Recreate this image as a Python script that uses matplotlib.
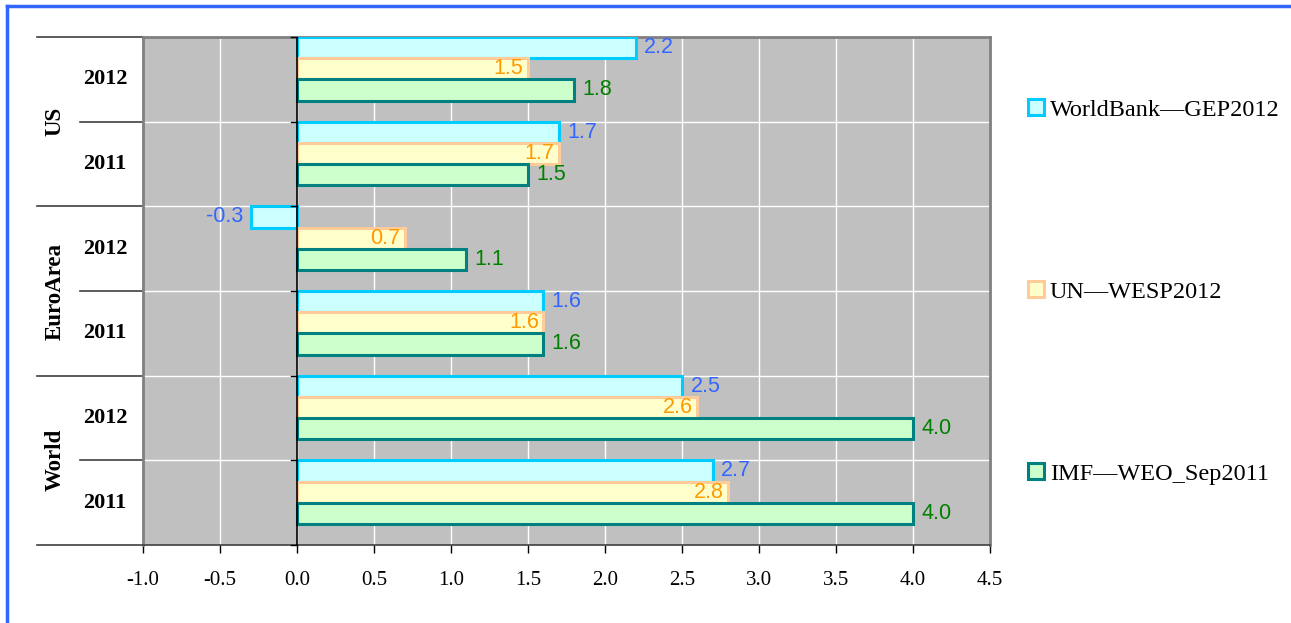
import numpy as np
import matplotlib.pyplot as plt
from matplotlib.patches import Patch
from matplotlib.lines import Line2D

# data (growth forecasts, %)
countries = ['World', 'EuroArea', 'US']
years = ['2011', '2012']
series = ['WorldBank\u2014GEP2012', 'UN\u2014WESP2012', 'IMF\u2014WEO_Sep2011']
# order: World 2011, World 2012, EuroArea 2011, EuroArea 2012, US 2011, US 2012
worldbank = [2.7, 2.5, 1.6, -0.3, 1.7, 2.2]
un = [2.8, 2.6, 1.6, 0.7, 1.7, 1.5]
imf = [4.0, 4.0, 1.6, 1.1, 1.5, 1.8]

faces = ['#CCFFFF', '#FFFFCC', '#CCFFCC']
edges = ['#00CCFF', '#FFCC99', '#008080']
txtcol = ['#3366FF', '#FF9900', '#008000']
serif = ['Liberation Serif', 'DejaVu Serif']
sans = ['Liberation Sans', 'DejaVu Sans']

fig = plt.figure(figsize=(12.91, 6.23), dpi=100)
ax = fig.add_axes([143/1291, 1-545/623, 847/1291, 508/623])
ax.set_facecolor('#C0C0C0')

n = len(worldbank)
pos = np.arange(n)
h = 0.25
vals = [worldbank, un, imf]
offs = [0.875, 0.625, 0.375]
for k in range(3):
    y = pos + offs[k]
    ax.barh(y, vals[k], height=h, color=faces[k], edgecolor=edges[k],
            linewidth=2.2, zorder=3)
    for yi, v in zip(y, vals[k]):
        if k == 1:
            ax.text(v - 0.03, yi, '%.1f' % v, ha='right', va='center',
                    color=txtcol[k], fontsize=15.5, family=sans, zorder=4)
        elif v < 0:
            ax.text(v - 0.05, yi, '%.1f' % v, ha='right', va='center',
                    color=txtcol[k], fontsize=15.5, family=sans, zorder=4)
        else:
            ax.text(v + 0.055, yi, '%.1f' % v, ha='left', va='center',
                    color=txtcol[k], fontsize=15.5, family=sans, zorder=4)

ax.set_xlim(-1.0, 4.5)
ax.set_ylim(0, n)
ax.set_xticks(np.arange(-1.0, 4.51, 0.5))
ax.set_xticklabels(['%.1f' % t for t in np.arange(-1.0, 4.51, 0.5)],
                   family=serif, fontsize=15)
ax.tick_params(axis='x', direction='out', length=6, width=1, pad=13)
ax.set_yticks([])
for x in np.arange(-0.5, 4.51, 0.5):
    ax.axvline(x, color='white', lw=1, zorder=1)
for yb in range(1, n):
    ax.axhline(yb, color='white', lw=1, zorder=1)
ax.axvline(0, color='black', lw=1.2, zorder=5)
for yb in range(0, n + 1):
    ax.plot([-0.04, 0], [yb, yb], color='black', lw=1, zorder=5, clip_on=False)

for s in ['top', 'right', 'left']:
    ax.spines[s].set_color('#808080')
    ax.spines[s].set_linewidth(2)
ax.spines['bottom'].set_color('#404040')
ax.spines['bottom'].set_linewidth(1.2)

# category axis lines and labels
tr = ax.get_yaxis_transform()
for yb in range(0, n + 1):
    x0 = -0.125 if yb % 2 == 0 else -0.074
    ax.plot([x0, 0], [yb, yb], color='#404040', lw=1.2, transform=tr,
            clip_on=False)
for i in range(n):
    ax.text(-0.045, i + 0.5, years[i % 2], transform=tr, ha='center',
            va='center', fontsize=16, fontweight='bold', family=serif)
for c, name in enumerate(countries):
    ax.text(-0.104, 2 * c + 1, name, transform=tr, ha='center', va='center',
            rotation=90, fontsize=16.5, fontweight='bold', family=serif)

# legend
handles = [Patch(facecolor=faces[k], edgecolor=edges[k], linewidth=2.2)
           for k in range(3)]
fig.legend(handles, series, loc='upper left', bbox_to_anchor=(1006/1291, 1-77/623),
           frameon=False, prop={'family': serif, 'size': 17.5},
           handlelength=0.65, handleheight=0.65, handletextpad=0.25,
           labelspacing=6.6)

# outer blue frame (top and left)
fig.add_artist(Line2D([7/1291, 1], [1-6/623, 1-6/623], color='#3366FF', lw=2.5))
fig.add_artist(Line2D([7/1291, 7/1291], [0, 1-6/623], color='#3366FF', lw=2.5))

fig.savefig('out.png', dpi=100)
